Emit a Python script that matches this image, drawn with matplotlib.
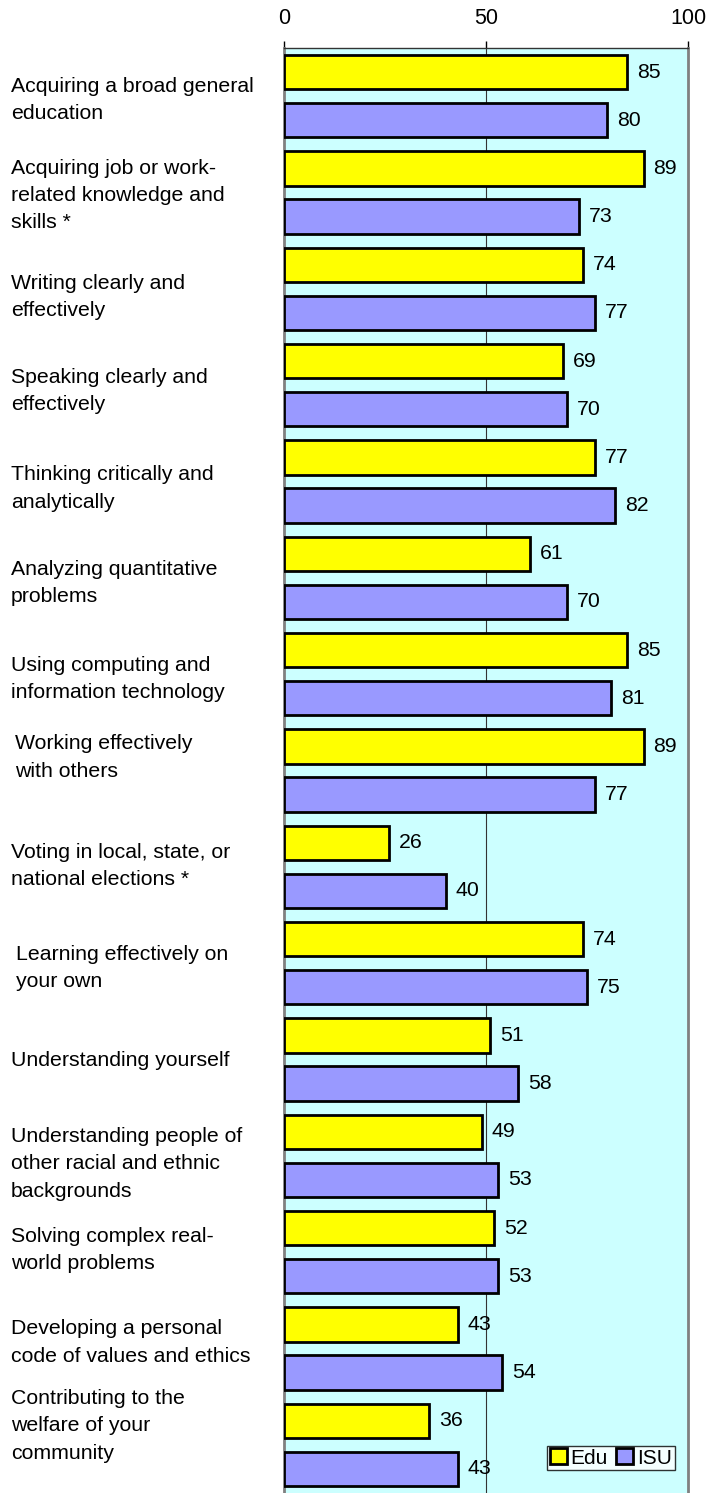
import matplotlib
matplotlib.use("Agg")
import matplotlib.pyplot as plt
import numpy as np
from matplotlib.patches import Patch

plt.rcParams['font.family'] = ['Liberation Sans', 'DejaVu Sans']

categories = [
    "Acquiring a broad general\neducation",
    "Acquiring job or work-\nrelated knowledge and\nskills *",
    "Writing clearly and\neffectively",
    "Speaking clearly and\neffectively",
    "Thinking critically and\nanalytically",
    "Analyzing quantitative\nproblems",
    "Using computing and\ninformation technology",
    "Working effectively\nwith others",
    "Voting in local, state, or\nnational elections *",
    "Learning effectively on\nyour own",
    "Understanding yourself",
    "Understanding people of\nother racial and ethnic\nbackgrounds",
    "Solving complex real-\nworld problems",
    "Developing a personal\ncode of values and ethics",
    "Contributing to the\nwelfare of your\ncommunity",
]
edu = [85, 89, 74, 69, 77, 61, 85, 89, 26, 74, 51, 49, 52, 43, 36]
isu = [80, 73, 77, 70, 82, 70, 81, 77, 40, 75, 58, 53, 53, 54, 43]
ticks = [0, 50, 100]
series_names = ["Edu", "ISU"]

# layout tweaks (pixels)
label_dx = {7: 4, 9: 5}
label_dy = [4, 3, 8, 6, 7, 5, 5, -13, -1, 5, 1, 8, -2, -6, -19]

W, H = 722, 1493
fig = plt.figure(figsize=(W / 100, H / 100), dpi=100)
ax = fig.add_axes([284 / W, 0.0, (688 - 284) / W, 1 - 48 / H])
ax.set_facecolor("#CCFFFF")

n = len(categories)
px_per_unit = (H - 48) / n
idx = np.arange(n)
h = 0.355
ax.barh(idx + 0.25, edu, height=h, color="#FFFF00", edgecolor="black", linewidth=2, zorder=3)
ax.barh(idx + 0.75, isu, height=h, color="#9999FF", edgecolor="black", linewidth=2, zorder=3)

fs = 15.3
for i in range(n):
    ax.text(edu[i] + 2.4, i + 0.25, str(edu[i]), va="center", ha="left", fontsize=fs, zorder=4)
    ax.text(isu[i] + 2.4, i + 0.75, str(isu[i]), va="center", ha="left", fontsize=fs, zorder=4)
    x0 = (11 + label_dx.get(i, 0)) / W
    y_data = i + 0.5 + label_dy[i] / px_per_unit
    ax.annotate(categories[i], xy=(x0, 0), xycoords=("figure fraction", "data"),
                xytext=(x0, y_data), textcoords=("figure fraction", "data"),
                ha="left", va="center", fontsize=fs, linespacing=1.55)

ax.set_xlim(0, 100)
ax.set_ylim(n, 0)
ax.xaxis.tick_top()
ax.set_xticks(ticks)
ax.tick_params(axis="x", direction="out", length=5, width=1, labelsize=15.5, pad=9)
ax.set_yticks([])
ax.axvline(50, color="#333333", linewidth=0.8, zorder=1)

for s in ["left", "right"]:
    ax.spines[s].set_color("#808080")
    ax.spines[s].set_linewidth(2)
ax.spines["top"].set_color("#333333")
ax.spines["top"].set_linewidth(1)
ax.spines["bottom"].set_visible(False)

handles = [Patch(facecolor="#FFFF00", edgecolor="black", linewidth=2),
           Patch(facecolor="#9999FF", edgecolor="black", linewidth=2)]
leg = fig.legend(handles, series_names, loc="center", bbox_to_anchor=(611 / W, 1 - 1458 / H),
                 ncol=2, fontsize=15, frameon=True, fancybox=False, handlelength=0.8,
                 handleheight=0.8, handletextpad=0.2, columnspacing=0.4, borderpad=0.12,
                 borderaxespad=0)
leg.get_frame().set_edgecolor("black")
leg.get_frame().set_linewidth(1)

fig.savefig("out.png", dpi=100)
